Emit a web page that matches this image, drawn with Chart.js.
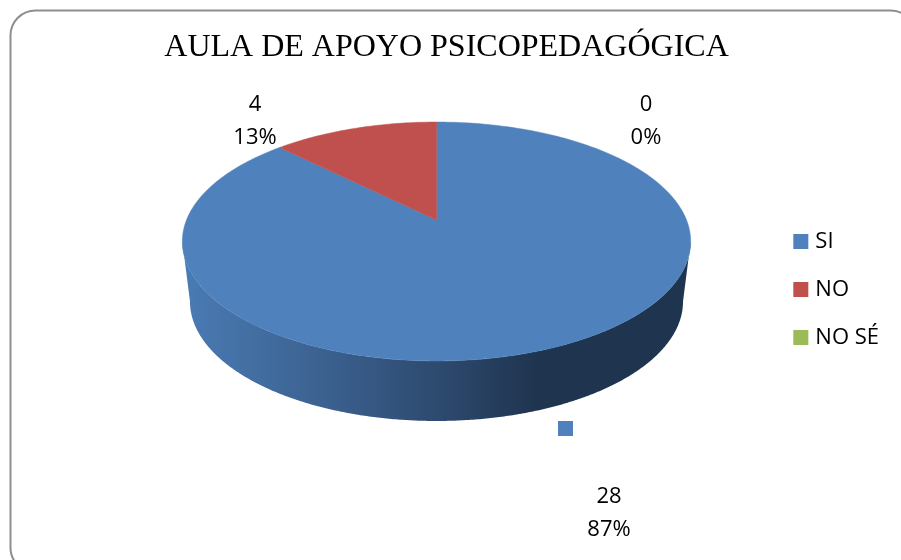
<!DOCTYPE html>
<html>
<head>
<meta charset="utf-8">
<style>html,body{margin:0;padding:0;background:#fff}canvas{display:block}</style>
<script src="https://cdn.jsdelivr.net/npm/chart.js@4"></script>
</head>
<body>
<canvas id="c" width="901" height="560"></canvas>
<script>
const categories = ['SI', 'NO', 'NO SÉ'];
const values = [28, 4, 0];
const percentLabels = ['87%', '13%', '0%'];
const sliceColors = ['#4F81BD', '#C0504D', '#9BBB59'];
const chartTitle = 'AULA DE APOYO PSICOPEDAGÓGICA';

const LABEL_FONT = '22px "Open Sans"';
const cx = 436.5, apexY = 220, tilt = 0.18, sy = 115.6, sx = 250;
const floorY = 280, floorScale = 0.97;

function project(theta, top) {
  const ux = Math.cos(theta), uy = Math.sin(theta), k = 1 - tilt * uy;
  return top
    ? [cx + sx * ux / k, apexY + sy * uy / k]
    : [cx + sx * floorScale * ux / k, floorY + sy * uy / k];
}

const pie3d = {
  id: 'pie3d',
  beforeDraw(chart) {
    const ctx = chart.ctx;
    ctx.save();
    ctx.fillStyle = '#fff';
    ctx.fillRect(0, 0, chart.width, chart.height);
    ctx.beginPath();
    ctx.roundRect(10.5, 10.5, 905, 562, 25);
    ctx.strokeStyle = '#8e8e8e';
    ctx.lineWidth = 2;
    ctx.stroke();
    ctx.restore();
  },
  beforeDatasetsDraw(chart) {
    const ctx = chart.ctx, arcs = chart.getDatasetMeta(0).data, N = 360;
    ctx.save();
    // side wall, between the widest points of the top and bottom rims
    const g = ctx.createLinearGradient(183, 0, 690, 0);
    g.addColorStop(0, '#4A7BB4');
    g.addColorStop(0.3, '#3A5F8D');
    g.addColorStop(0.55, '#2A4568');
    g.addColorStop(0.7, '#1F344F');
    g.addColorStop(1, '#1F344F');
    ctx.fillStyle = g;
    const edge = Math.asin(tilt);
    const from = Math.PI - edge, span = Math.PI - 2 * edge;
    ctx.beginPath();
    for (let i = 0; i <= N; i++) {
      const p = project(from - span * i / N, true);
      i ? ctx.lineTo(p[0], p[1]) : ctx.moveTo(p[0], p[1]);
    }
    for (let i = N; i >= 0; i--) {
      const p = project(from - span * i / N, false);
      ctx.lineTo(p[0], p[1]);
    }
    ctx.closePath();
    ctx.fill();
    // top surface, one sector per slice, angles taken from the library's arcs
    arcs.forEach((arc, i) => {
      const { startAngle, endAngle } = arc.getProps(['startAngle', 'endAngle'], true);
      if (endAngle - startAngle <= 0) return;
      ctx.beginPath();
      ctx.moveTo(cx, apexY);
      const steps = Math.max(2, Math.ceil((endAngle - startAngle) / (2 * Math.PI) * N));
      for (let s = 0; s <= steps; s++) {
        const p = project(startAngle + (endAngle - startAngle) * s / steps, true);
        ctx.lineTo(p[0], p[1]);
      }
      ctx.closePath();
      ctx.fillStyle = sliceColors[i];
      ctx.fill();
      ctx.strokeStyle = sliceColors[i];
      ctx.lineWidth = 0.5;
      ctx.stroke();
    });
    ctx.restore();
    return false;
  },
  afterDraw(chart) {
    const ctx = chart.ctx;
    ctx.save();
    // widen the legend keys to the reference's square keys
    chart.legend.legendHitBoxes.forEach((b, i) => {
      ctx.fillStyle = sliceColors[i];
      ctx.fillRect(b.left - 4, b.top + (b.height - 15) / 2, 15, 15);
    });
    // data labels
    ctx.font = LABEL_FONT;
    ctx.fillStyle = '#000';
    ctx.textAlign = 'center';
    ctx.textBaseline = 'alphabetic';
    const spots = [[609, 503, 536], [255, 111, 144], [646, 111, 144]];
    values.forEach((v, i) => {
      ctx.fillText(String(v), spots[i][0], spots[i][1]);
      ctx.fillText(percentLabels[i], spots[i][0], spots[i][2]);
    });
    // legend key shown with the SI data label
    ctx.fillStyle = sliceColors[0];
    ctx.fillRect(558, 421, 15, 15);
    ctx.restore();
  }
};

new Chart(document.getElementById('c'), {
  type: 'pie',
  data: {
    labels: categories,
    datasets: [{ data: values, backgroundColor: sliceColors, borderWidth: 0 }]
  },
  options: {
    responsive: false,
    animation: false,
    events: [],
    layout: { padding: { left: 4, right: 12, top: 19, bottom: 0 } },
    plugins: {
      tooltip: { enabled: false },
      title: {
        display: true,
        text: chartTitle,
        color: '#000',
        font: { family: '"Liberation Serif"', size: 32, weight: 'normal' },
        padding: { top: 9, bottom: 21 }
      },
      legend: {
        position: 'right',
        labels: {
          boxWidth: 7,
          boxHeight: 15,
          padding: 26,
          color: '#000',
          font: { family: '"Open Sans"', size: 22 }
        }
      }
    }
  },
  plugins: [pie3d]
});
</script>
</body>
</html>
